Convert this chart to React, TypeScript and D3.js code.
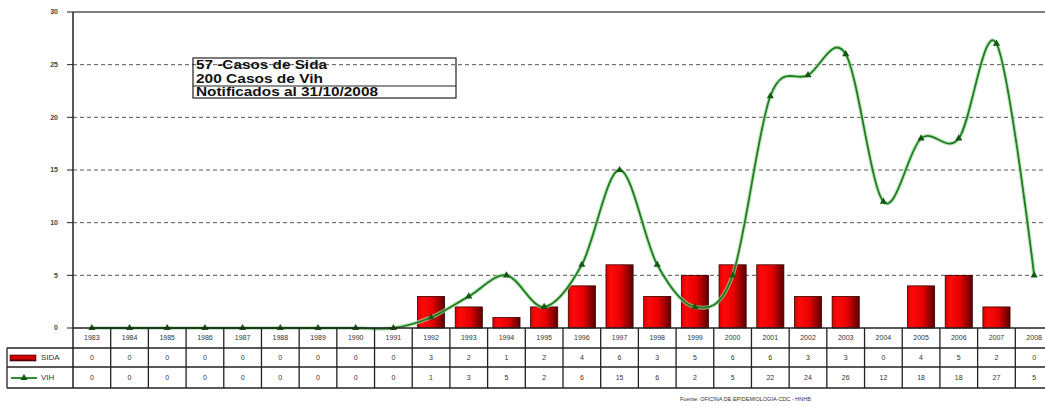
import React from "react";
import * as d3 from "d3";

const years = ["1983","1984","1985","1986","1987","1988","1989","1990","1991","1992","1993","1994","1995","1996","1997","1998","1999","2000","2001","2002","2003","2004","2005","2006","2007","2008"];
const sida = [0,0,0,0,0,0,0,0,0,3,2,1,2,4,6,3,5,6,6,3,3,0,4,5,2,0];
const vih = [0,0,0,0,0,0,0,0,0,1,3,5,2,6,15,6,2,5,22,24,26,12,18,18,27,5];
const yTicks = [0,5,10,15,20,25,30];
const boxLines = ["57 -Casos de Sida", "200  Casos de Vih", "Notificados al 31/10/2008"];
const seriesNames = ["SIDA", "VIH"];
const source = "Fuente: OFICINA DE EPIDEMIOLOGIA-CDC - HNHB";

const W = 1045, H = 407;
const L = 73, R = 1053, T = 12, B = 328;
const rowH1 = 348, rowH2 = 367, rowH3 = 388;
const FONT = "'Liberation Sans', Arial, sans-serif";

export default function App() {
  const x = d3.scaleBand<string>().domain(years).range([L, R]).padding(0);
  const step = x.bandwidth();
  const barW = step * 0.72;
  const y = d3.scaleLinear().domain([0, 30]).range([B, T]);
  const cx = (yr: string) => (x(yr) as number) + step / 2;

  const linePts: [number, number][] = years.map((yr, i) => [cx(yr), y(vih[i])]);
  const line = d3.line().curve(d3.curveCardinal.tension(0))(linePts) || "";
  const tri = d3.symbol().type(d3.symbolTriangle).size(22)() || "";

  return (
    <svg width={W} height={H} style={{ position: "absolute", left: 0, top: 0, background: "#fff" }} fontFamily={FONT}>
      <defs>
        <linearGradient id="barG" x1="0" x2="1" y1="0" y2="0">
          <stop offset="0%" stopColor="#d80000" />
          <stop offset="18%" stopColor="#ff0a0a" />
          <stop offset="55%" stopColor="#e60000" />
          <stop offset="100%" stopColor="#5a0000" />
        </linearGradient>
        <linearGradient id="legG" x1="0" x2="0" y1="0" y2="1">
          <stop offset="0%" stopColor="#b00000" />
          <stop offset="50%" stopColor="#e00000" />
          <stop offset="100%" stopColor="#500000" />
        </linearGradient>
      </defs>

      {/* gridlines */}
      {yTicks.filter(t => t > 0 && t < 30).map(t => (
        <line key={t} x1={L} x2={R} y1={y(t)} y2={y(t)} stroke="#555" strokeWidth={1} strokeDasharray="4 3" />
      ))}
      <line x1={L} x2={R} y1={y(30)} y2={y(30)} stroke="#808080" strokeWidth={2} />

      {/* y axis */}
      <line x1={L} x2={L} y1={T} y2={rowH3} stroke="#222" strokeWidth={1.5} />
      {yTicks.map(t => (
        <g key={t}>
          <line x1={L - 6} x2={L} y1={y(t)} y2={y(t)} stroke="#222" strokeWidth={1} />
          <text x={58} y={y(t)} dy="0.35em" textAnchor="end" fontSize={7} fontWeight="bold" fill="#444">{t}</text>
        </g>
      ))}

      {/* bars */}
      {years.map((yr, i) => sida[i] > 0 ? (
        <rect key={yr} x={cx(yr) - barW / 2} y={y(sida[i])} width={barW} height={B - y(sida[i])}
          fill="url(#barG)" stroke="#3a0000" strokeWidth={0.8} />
      ) : null)}

      {/* info box */}
      <rect x={193} y={58} width={263} height={40} fill="none" stroke="#222" strokeWidth={1.2} />
      <line x1={193} x2={456} y1={86} y2={86} stroke="#222" strokeWidth={1.2} />
      {boxLines.map((s, i) => (
        <text key={i} x={196} y={[69, 83, 96][i]} fontSize={12.5} fontWeight="bold" fill="#111"
          textLength={[131, 127, 182][i]} lengthAdjust="spacingAndGlyphs">{s}</text>
      ))}

      {/* VIH line */}
      <path d={line} fill="none" stroke="#a8dca8" strokeWidth={4} opacity={0.7} />
      <path d={line} fill="none" stroke="#1e7d1e" strokeWidth={1.8} />
      {linePts.map((p, i) => (
        <path key={i} d={tri} transform={`translate(${p[0]},${p[1]})`} fill="#125812" />
      ))}

      {/* x axis */}
      <line x1={L} x2={R} y1={B} y2={B} stroke="#222" strokeWidth={1.5} />

      {/* data table */}
      {[rowH1, rowH2, rowH3].map(yy => (
        <line key={yy} x1={7} x2={R} y1={yy} y2={yy} stroke="#222" strokeWidth={1.3} />
      ))}
      <line x1={7} x2={7} y1={rowH1} y2={rowH3} stroke="#222" strokeWidth={1.3} />
      {years.map(yr => (
        <line key={yr} x1={(x(yr) as number) + step} x2={(x(yr) as number) + step} y1={B} y2={rowH3} stroke="#222" strokeWidth={1.3} />
      ))}
      {years.map((yr, i) => (
        <g key={yr} fontSize={7} fill="#333" textAnchor="middle">
          <text x={cx(yr)} y={(B + rowH1) / 2} dy="0.35em">{yr}</text>
          <text x={cx(yr)} y={(rowH1 + rowH2) / 2} dy="0.35em">{sida[i]}</text>
          <text x={cx(yr)} y={(rowH2 + rowH3) / 2} dy="0.35em">{vih[i]}</text>
        </g>
      ))}

      {/* legend keys */}
      <rect x={10} y={355} width={26} height={6} fill="url(#legG)" stroke="#300000" strokeWidth={0.6} />
      <text x={41} y={(rowH1 + rowH2) / 2} dy="0.35em" fontSize={8} fill="#333">{seriesNames[0]}</text>
      <line x1={11} x2={37} y1={378} y2={378} stroke="#1e7d1e" strokeWidth={1.8} />
      <path d={tri} transform="translate(24,378)" fill="#125812" />
      <text x={41} y={(rowH2 + rowH3) / 2} dy="0.35em" fontSize={8} fill="#333">{seriesNames[1]}</text>

      {/* source */}
      <text x={680} y={401} fontSize={5.5} fill="#333">{source}</text>
    </svg>
  );
}
